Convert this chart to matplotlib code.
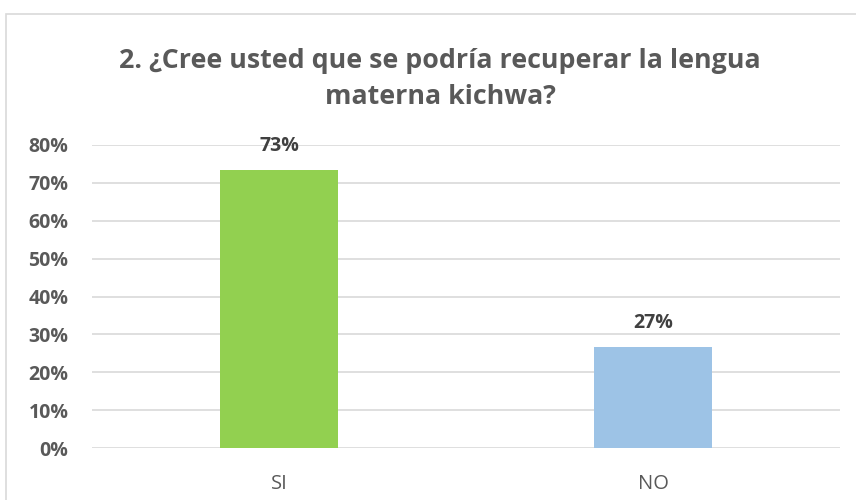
import matplotlib
matplotlib.use("Agg")
import matplotlib.pyplot as plt
from matplotlib.patches import Rectangle
from matplotlib.ticker import FuncFormatter, MultipleLocator

categories = ["SI", "NO"]
values = [0.733, 0.267]
bar_colors = ["#92D050", "#9DC3E6"]
title = "2. ¿Cree usted que se podría recuperar la lengua\nmaterna kichwa?"

plt.rcParams["font.family"] = ["Open Sans", "DejaVu Sans"]
TXT = "#595959"

fig = plt.figure(figsize=(8.56, 5.0), dpi=100)
fig.patches.append(Rectangle((6 / 856, -0.01), 1.0, 1 - 14 / 500 + 0.01, transform=fig.transFigure,
                             fill=False, edgecolor="#D9D9D9", linewidth=1.2))
ax = fig.add_axes([92 / 856, 52 / 500, 748 / 856, 303 / 500])

x = range(len(categories))
ax.bar(x, values, width=0.316, color=bar_colors, zorder=2)
for xi, v in zip(x, values):
    ax.annotate(f"{v:.0%}", (xi, v), xytext=(0, 17.5), textcoords="offset points",
                ha="center", va="center", fontsize=14, fontweight="bold", color="#404040")

ax.set_xlim(-0.5, 1.5)
ax.set_ylim(0, 0.8)
ax.yaxis.set_major_locator(MultipleLocator(0.1))
ax.yaxis.set_major_formatter(FuncFormatter(lambda v, _: f"{v:.0%}"))
ax.set_xticks(list(x))
ax.set_xticklabels(categories)
ax.grid(axis="y", color="#D9D9D9", linewidth=1.2, zorder=0)
for s in ax.spines.values():
    s.set_visible(False)
ax.tick_params(length=0)
ax.tick_params(axis="y", pad=17, labelsize=14, labelcolor=TXT)
ax.tick_params(axis="x", pad=19, labelsize=14.5, labelcolor=TXT)
for lab in ax.get_yticklabels():
    lab.set_fontweight("bold")

fig.text(0.514, 0.843, title, ha="center", va="center", fontsize=19.3,
         fontweight="bold", color=TXT, linespacing=1.5)

fig.savefig("out.png", dpi=100)
